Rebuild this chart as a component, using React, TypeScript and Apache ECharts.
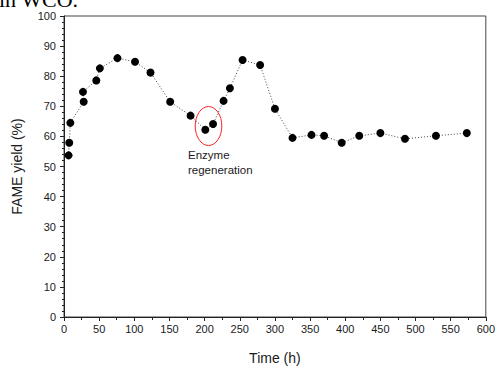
import React, { useEffect, useRef } from "react";
import * as echarts from "echarts";

const timeHours = [6.5, 7.5, 9, 28, 27, 46, 51, 76, 101, 123, 151, 180, 201, 212, 227, 236, 254, 279, 300, 325, 352, 370, 395, 420, 450, 485, 529, 573];
const fameYield = [53.7, 57.9, 64.5, 71.5, 74.8, 78.6, 82.6, 86.0, 84.8, 81.2, 71.5, 66.9, 62.2, 64.1, 71.8, 76.0, 85.4, 83.7, 69.2, 59.5, 60.5, 60.2, 57.9, 60.2, 61.1, 59.2, 60.2, 61.1];
const xTicks = { min: 0, max: 600, interval: 50 };
const yTicks = { min: 0, max: 100, interval: 10 };
const annotationLines = ["Enzyme", "regeneration"];

export default function App() {
  const ref = useRef<HTMLDivElement>(null);
  useEffect(() => {
    document.body.style.margin = "0";
    if (!ref.current) return;
    const chart = echarts.init(ref.current, null, { renderer: "svg" });
    const font = "Liberation Sans, Arial, sans-serif";
    chart.setOption({
      animation: false,
      grid: { left: 64, right: 11, top: 16, bottom: 50, show: true, borderColor: "#444", borderWidth: 1, backgroundColor: "transparent" },
      xAxis: {
        type: "value",
        min: xTicks.min, max: xTicks.max, interval: xTicks.interval,
        name: "Time (h)", nameLocation: "middle", nameGap: 34,
        nameTextStyle: { fontFamily: font, fontSize: 14, color: "#1a1a22" },
        axisLine: { show: true, lineStyle: { color: "#222", width: 1 } },
        axisTick: { show: true, length: 4, lineStyle: { color: "#222" } },
        minorTick: { show: true, splitNumber: 2, length: 3, lineStyle: { color: "#222" } },
        splitLine: { show: false },
        axisLabel: { fontFamily: font, fontSize: 11, color: "#1a1a22", margin: 6 },
      },
      yAxis: {
        type: "value",
        min: yTicks.min, max: yTicks.max, interval: yTicks.interval,
        name: "FAME yield (%)", nameLocation: "middle", nameGap: 40, nameRotate: 90,
        nameTextStyle: { fontFamily: font, fontSize: 14, color: "#1a1a22" },
        axisLine: { show: true, lineStyle: { color: "#222", width: 1 } },
        axisTick: { show: true, length: 4, lineStyle: { color: "#222" } },
        minorTick: { show: true, splitNumber: 5, length: 2, lineStyle: { color: "#222" } },
        splitLine: { show: false },
        axisLabel: { fontFamily: font, fontSize: 11, color: "#1a1a22", margin: 8 },
      },
      series: [
        {
          type: "line",
          data: timeHours.map((t, i) => [t, fameYield[i]]),
          symbol: "circle",
          symbolSize: 8,
          itemStyle: { color: "#000" },
          lineStyle: { color: "#444", width: 1, type: [1, 2] },
          z: 3,
        },
      ],
      graphic: [
        {
          type: "text",
          left: -1,
          top: -12,
          style: { text: "in WCO.", font: "22px 'Liberation Serif', serif", fill: "#000" },
        },
        {
          type: "ellipse",
          shape: { cx: 208.5, cy: 126, rx: 13.3, ry: 19.5 },
          style: { fill: "none", stroke: "#f22", lineWidth: 1 },
        },
        {
          type: "text",
          left: 188,
          top: 148,
          style: { text: annotationLines.join("\n"), font: "11.5px 'Liberation Sans', Arial, sans-serif", fill: "#1a1a22", lineHeight: 14.5 },
        },
      ],
    });
    return () => chart.dispose();
  }, []);
  return <div ref={ref} style={{ width: 498, height: 370 }} />;
}
